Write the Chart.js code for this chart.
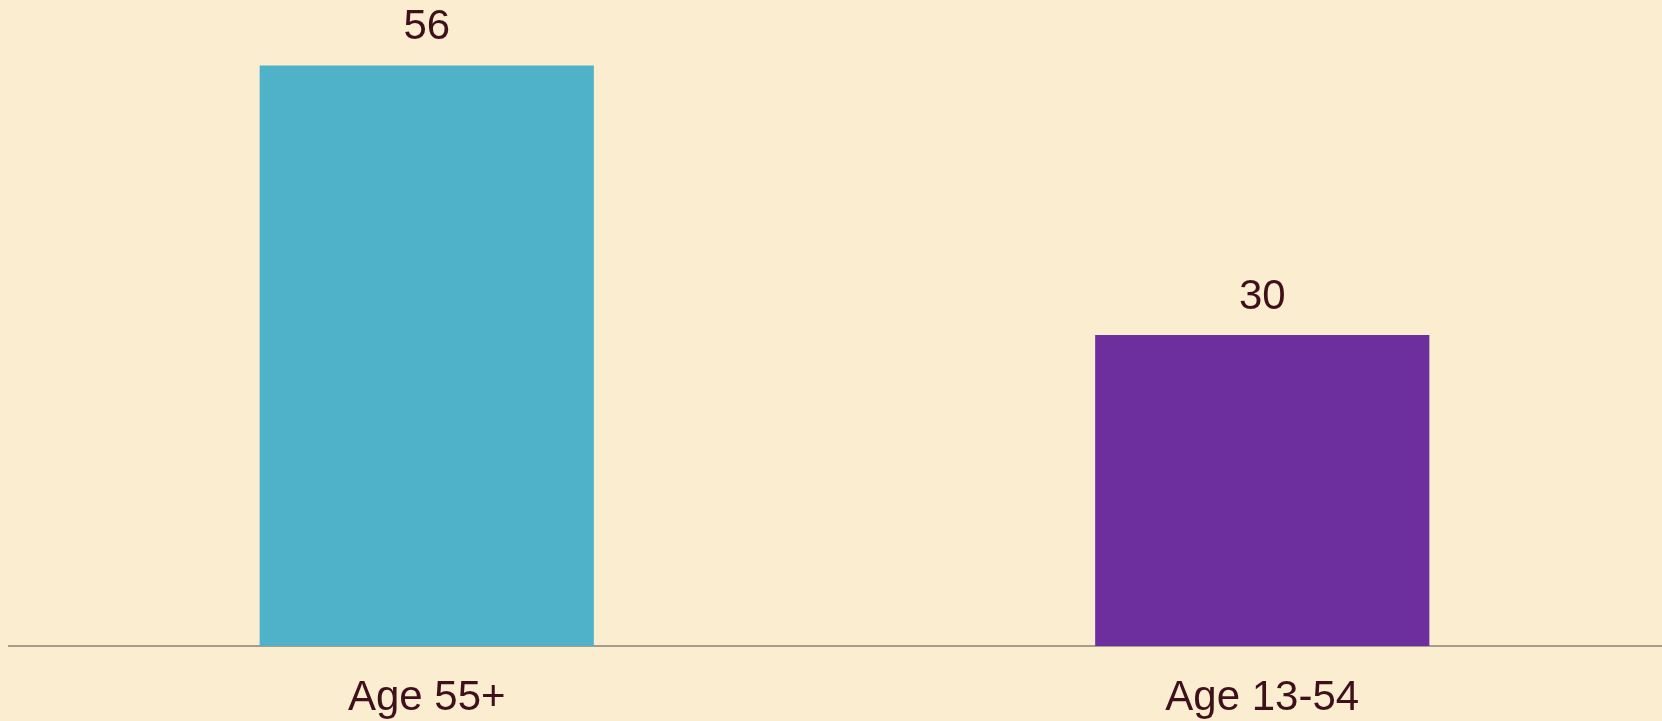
<!DOCTYPE html>
<html lang="en">
<head>
  <meta charset="UTF-8">
  <title>Age groups</title>
  <script src="https://cdn.jsdelivr.net/npm/chart.js"></script>
  <style>
    * { box-sizing: border-box; }
    html, body {
      margin: 0;
      height: 100%;
      overflow: hidden;
      background: #fbedcf;
    }
    .wrap {
      position: absolute;
      top: 0;
      left: 0;
      width: 1690px;
      height: 721px;
    }
  </style>
</head>
<body>
  <div class="wrap">
    <canvas id="graficoIdade"></canvas>
  </div>

  <script>
    const categorias = ['Age 55+', 'Age 13-54'];
    const valores = [56, 30];
    const cores = ['#50b2c8', '#6e2f9e'];

    const corTexto = '#3f0f1c';
    const fonte = "'Liberation Sans', Arial, sans-serif";

    // values above the bars and category names under the axis
    const rotulos = {
      id: 'rotulos',
      afterDatasetsDraw(chart) {
        const ctx = chart.ctx;
        const meta = chart.getDatasetMeta(0);
        const x = chart.scales.x;
        ctx.save();
        ctx.fillStyle = corTexto;
        ctx.font = '42px ' + fonte;
        ctx.textAlign = 'center';
        ctx.textBaseline = 'alphabetic';
        meta.data.forEach((barra, i) => {
          ctx.fillText(valores[i], barra.x, barra.y - 26);
        });
        categorias.forEach((nome, i) => {
          ctx.fillText(nome, x.getPixelForValue(i), chart.chartArea.bottom + 64);
        });
        ctx.restore();
      }
    };

    new Chart(document.getElementById('graficoIdade'), {
      type: 'bar',
      data: {
        labels: categorias,
        datasets: [{
          data: valores,
          backgroundColor: cores,
          barPercentage: 0.5,
          categoryPercentage: 0.8
        }]
      },
      options: {
        responsive: true,
        maintainAspectRatio: false,
        animation: false,
        layout: { padding: { top: 24, left: 9, right: 10, bottom: 67 } },
        plugins: {
          legend: { display: false },
          tooltip: { enabled: false }
        },
        scales: {
          x: {
            grid: { display: false },
            border: { display: true, color: '#a39e8a', width: 2 },
            ticks: { display: false }
          },
          y: {
            display: false,
            min: 0,
            max: 60
          }
        }
      },
      plugins: [rotulos]
    });
  </script>
</body>
</html>
